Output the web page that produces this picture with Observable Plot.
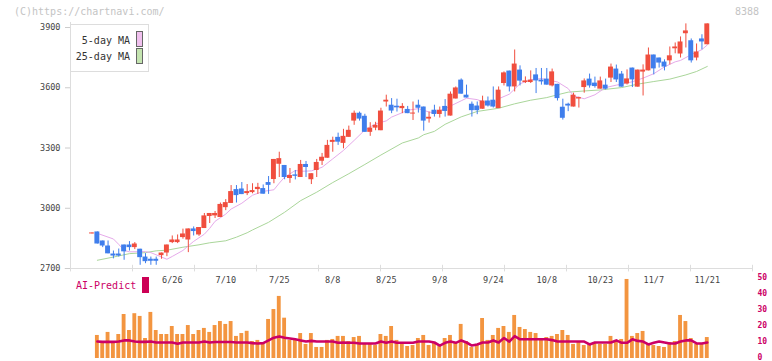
<!DOCTYPE html>
<html><head><meta charset="utf-8">
<script src="https://cdn.jsdelivr.net/npm/d3@7"></script>
<script src="https://cdn.jsdelivr.net/npm/@observablehq/plot@0.6"></script>
<style>
body{margin:0;background:#fff;}
#wrap{position:relative;width:772px;height:361px;overflow:hidden;font-family:"DejaVu Sans Mono",monospace;}
#wrap svg{position:absolute;left:0;}
.abs{position:absolute;white-space:nowrap;line-height:12px;}
</style></head><body><div id="wrap"></div>
<script>
// ---- data ----
const opens = [2872,2882,2837,2812,2772,2772,2817,2817,2804,2796,
2757,2746,2746,2764,2777,2829,2829,2854,2842,2897,
2867,2899,2959,2962,2954,3003,3024,3093,3096,3073,
3078,3093,3098,3128,3143,3219,3213,3148,3166,3153,
3218,3142,3188,3234,3249,3328,3353,3323,3353,3434,
3473,3458,3378,3399,3386,3529,3513,3508,3496,3492,
3469,3513,3504,3444,3488,3467,3507,3459,3544,3638,
3563,3518,3509,3493,3534,3538,3496,3621,3683,3604,
3688,3626,3626,3664,3638,3643,3609,3617,3503,3518,
3504,3544,3601,3643,3623,3593,3613,3648,3693,3668,
3619,3698,3603,3678,3684,3763,3748,3728,3734,3794,
3768,3869,3834,3748,3843,3814];
const highs = [2877,2882,2837,2837,2787,2797,2817,2834,2829,2796,
2774,2757,2757,2777,2817,2862,2867,2896,2897,2907,
2904,2974,2974,2984,3026,3043,3113,3113,3128,3118,
3122,3124,3116,3158,3243,3279,3213,3198,3188,3238,
3233,3172,3243,3273,3338,3354,3374,3393,3409,3484,
3479,3468,3426,3428,3498,3563,3546,3543,3521,3507,
3529,3538,3504,3479,3513,3504,3541,3579,3604,3644,
3613,3529,3529,3558,3554,3604,3604,3679,3683,3788,
3709,3654,3684,3696,3696,3696,3693,3617,3543,3523,
3573,3553,3644,3668,3653,3653,3643,3718,3713,3681,
3689,3698,3688,3714,3798,3763,3748,3739,3803,3823,
3853,3918,3843,3818,3864,3918];
const lows = [2872,2822,2804,2773,2748,2757,2741,2787,2794,2716,
2724,2716,2716,2746,2759,2824,2824,2846,2779,2862,
2860,2899,2924,2949,2954,2988,3024,3026,3068,3063,
3072,3069,3070,3069,3122,3153,3142,3124,3141,3153,
3153,3118,3153,3213,3249,3279,3313,3296,3353,3413,
3434,3378,3358,3386,3386,3504,3471,3479,3471,3471,
3437,3474,3384,3424,3454,3449,3454,3459,3544,3568,
3549,3454,3466,3493,3504,3499,3496,3609,3579,3579,
3609,3621,3621,3571,3613,3613,3604,3534,3439,3481,
3504,3499,3573,3598,3598,3593,3589,3626,3626,3603,
3614,3601,3603,3559,3684,3664,3698,3684,3714,3769,
3748,3798,3723,3734,3789,3814];
const closes = [2877,2822,2812,2773,2762,2762,2783,2804,2822,2754,
2734,2736,2736,2777,2817,2842,2842,2872,2897,2884,
2904,2962,2974,2974,3019,3028,3083,3063,3068,3083,
3088,3104,3070,3114,3243,3247,3153,3163,3159,3218,
3203,3172,3228,3254,3313,3338,3329,3358,3388,3473,
3444,3378,3399,3413,3484,3538,3484,3500,3507,3471,
3474,3498,3434,3453,3467,3488,3482,3568,3599,3568,
3549,3486,3486,3534,3509,3504,3588,3674,3604,3718,
3633,3634,3638,3634,3629,3613,3679,3546,3448,3509,
3563,3551,3634,3609,3606,3634,3593,3703,3639,3603,
3644,3639,3688,3688,3763,3694,3723,3703,3759,3803,
3828,3883,3734,3778,3828,3918];

// 5-day / 25-day moving averages, read at candle positions
const ma5Idx = [2,5,6,7,8,11,12,14,15,16,18,19,20,22,23,24,26,27,29,30,31,33,35,36,37,39,40,42,44,46,48,50,52,54,56,57,59,60,62,64,65,67,70,71,73,75,76,77,79,81,83,85,87,88,90,91,93,95,97,99,100,102,104,106,108,110,111,113,115,116];
const ma5Val = [2875,2847,2820,2790,2783,2784,2779,2757,2746,2760,2790,2813,2835,2871,2900,2935,2971,2996,3025,3045,3065,3084,3092,3125,3155,3188,3184,3186,3204,3246,3288,3338,3390,3420,3435,3454,3476,3488,3496,3479,3475,3496,3535,3548,3541,3521,3518,3545,3568,3620,3640,3646,3634,3629,3596,3560,3545,3565,3601,3613,3618,3630,3648,3670,3704,3729,3736,3765,3790,3813];
const ma25Idx = [2,5,8,11,13,15,18,21,23,26,28,30,31,34,37,40,43,46,49,52,55,59,62,63,65,67,70,73,77,80,83,86,88,90,93,96,100,103,106,109,112,114,116];
const ma25Val = [2741,2757,2774,2779,2788,2791,2806,2818,2828,2838,2856,2878,2892,2930,2980,3038,3080,3128,3172,3218,3265,3325,3350,3366,3383,3418,3455,3482,3498,3520,3538,3551,3565,3578,3584,3589,3601,3618,3631,3643,3664,3681,3706];

// bottom panel: bars for candles 2..116, and the AI-Predict line
const volFirstIdx = 2;
const volumes = [14.4,10.6,16.3,10.6,15,27.5,17.5,28,26.3,12.5,
28.8,17.5,15,15,20,15,15,20.6,15,17.5,
18.8,16.3,20.6,23.1,21.3,23.1,13.8,15.6,17,10.6,
11.3,10,24.4,30.6,38.8,25.2,11.3,11.3,15.6,8.8,
15.6,6.9,6.9,11.3,11.9,13.8,13.8,10.6,13.1,13.8,
9.4,9.4,8.1,15,13.8,20,11.3,10,7.5,8.1,
12.5,14.4,8.1,10,7.5,12.5,14.4,9.4,21.3,10.6,
6.9,8.8,25,11.3,14.4,18.8,20,16.3,26.9,19.4,
18.1,16.3,15.6,11.9,13.1,13.8,15,17.5,14.4,8.8,
10,8.1,9.4,10,8.8,8.8,13.8,11.3,11.9,49.4,
13.8,15.6,16.9,8.8,8.1,7.5,6.9,10,10.6,26.9,
23.1,12.5,8.8,9.4,13.1];
const predict = [10.6,10.4,10.4,10.4,10.6,11.3,11.3,10.6,10.4,10.4,
10.6,10,10,10,10,9.2,10,10,10,10,
10.6,10,10.3,10.3,10.3,10.3,10,10,10,9.6,
9.4,9.6,11.3,13,13.8,13,12.5,12,11.3,10.6,
11,10.6,10.6,10.6,10.6,9.8,10,9.8,9.8,9.4,
9.4,9.4,9.4,10.6,9.8,10.6,9.8,9.8,9.8,9.8,
10.6,10.6,10.6,10,8.1,9.8,10.6,9.8,11.3,10,
8.1,8.8,10,10,11.3,10,12.8,10.6,14,12,
12,12,12,12,12,11.5,10.6,10.6,10.6,10.6,
10.6,10.6,8.8,10,10,10,10,11.3,9.8,9.8,
12,11,10.6,8.8,9.8,10.6,10,9.4,9.4,10.6,
11.3,11.3,9.4,9.4,10];

const dateLabels = ["6/26","7/10","7/25","8/8","8/25","9/8","9/24","10/8","10/23","11/7","11/21"];
const dateLabelIdx = [16,26,36,46,56,66,76,86,96,106,116];
const priceTicks = [2700,3000,3300,3600,3900];
const volTicks = [0,10,20,30,40,50];

// ---- build ----
const RED = "#f04e3e", BLUE = "#3f7eec", PINK = "#e6aaea", GREEN = "#aad69a";
const CRIMSON = "#cc0066", ORANGE = "#f39540";
const FONT = "DejaVu Sans Mono, monospace";
const candles = opens.map((o, k) => ({i: k + 1, o, h: highs[k], l: lows[k], c: closes[k]}));
const up = candles.filter(d => d.c >= d.o), down = candles.filter(d => d.c < d.o);
const ma5 = ma5Idx.map((i, k) => ({i, v: ma5Val[k]}));
const ma25 = ma25Idx.map((i, k) => ({i, v: ma25Val[k]}));
const vol = volumes.map((v, k) => ({i: k + volFirstIdx, v, p: predict[k]}));
const xDomain = [-3.02, 124.45];
const xTicks = d3.range(12).map(j => xDomain[0] + j * (xDomain[1] - xDomain[0]) / 11);
const hw = 0.46;

const topPlot = Plot.plot({
  width: 772, height: 300, marginLeft: 70, marginRight: 20, marginTop: 27, marginBottom: 32,
  x: {domain: xDomain, axis: null},
  y: {domain: [2700, 3900], axis: null},
  style: {fontFamily: FONT, background: "transparent"},
  marks: [
    Plot.ruleX([xDomain[0]], {y1: 2700, y2: 3925, stroke: "#dddddd"}),
    Plot.ruleY([2700], {x1: xDomain[0] - 1, x2: xDomain[1], stroke: "#dddddd"}),
    Plot.ruleX(xTicks, {y1: 2683, y2: 2716, stroke: "#dddddd"}),
    Plot.axisY(priceTicks, {tickSize: 5, tickPadding: 5, tickFormat: d => String(d), stroke: "#cccccc", fill: "#444", fontSize: 8.5, fontFamily: FONT}),
    Plot.line(ma25, {x: "i", y: "v", stroke: GREEN, strokeWidth: 1}),
    Plot.line(ma5, {x: "i", y: "v", stroke: PINK, strokeWidth: 1}),
    Plot.ruleX(up, {x: "i", y1: "l", y2: "h", stroke: RED, strokeWidth: 1}),
    Plot.ruleX(down, {x: "i", y1: "l", y2: "h", stroke: BLUE, strokeWidth: 1}),
    Plot.rect(up, {x1: d => d.i - hw, x2: d => d.i + hw, y1: "o", y2: "c", fill: RED}),
    Plot.rect(down, {x1: d => d.i - hw, x2: d => d.i + hw, y1: "c", y2: "o", fill: BLUE}),
    Plot.text(dateLabels, {x: (d, j) => dateLabelIdx[j], frameAnchor: "bottom", dy: 14, fontSize: 8.5, fill: "#444", fontFamily: FONT})
  ]
});
topPlot.style.top = "0px";

const botPlot = Plot.plot({
  width: 772, height: 91, marginLeft: 70, marginRight: 20, marginTop: 8, marginBottom: 3,
  x: {domain: xDomain, axis: null},
  y: {domain: [0, 50], axis: null},
  style: {fontFamily: FONT, background: "transparent"},
  marks: [
    Plot.rect(vol, {x1: d => d.i - 0.36, x2: d => d.i + 0.36, y1: 0, y2: "v", fill: ORANGE}),
    Plot.line(vol, {x: "i", y: "p", stroke: CRIMSON, strokeWidth: 2.6}),
    Plot.axisY(volTicks, {anchor: "right", tickSize: 0, tickPadding: 5, dy: -1.2, fill: CRIMSON, fontSize: 8, fontWeight: "bold", fontFamily: FONT})
  ]
});
botPlot.style.top = "270px";

const wrap = document.getElementById("wrap");
wrap.appendChild(topPlot);
wrap.appendChild(botPlot);

function addDiv(html, css) {
  const d = document.createElement("div");
  d.className = "abs";
  d.innerHTML = html;
  Object.assign(d.style, css);
  wrap.appendChild(d);
  return d;
}
addDiv("(C)https://chartnavi.com/", {left: "14px", top: "6px", fontSize: "10px", color: "#c4c4c4"});
addDiv("8388", {left: "735px", top: "6px", fontSize: "10px", color: "#c4c4c4"});
// legend box
addDiv("", {left: "70px", top: "24px", width: "79px", height: "48px", boxSizing: "border-box", border: "1px solid #dddddd", background: "#fff"});
addDiv("5-day MA", {right: (772 - 130) + "px", top: "35px", fontSize: "10px", color: "#333"});
addDiv("25-day MA", {right: (772 - 130) + "px", top: "51px", fontSize: "10px", color: "#333"});
addDiv("", {left: "136px", top: "31px", width: "7px", height: "16px", boxSizing: "border-box", border: "1px solid #666", background: "#f0c0ee"});
addDiv("", {left: "136px", top: "48px", width: "7px", height: "16px", boxSizing: "border-box", border: "1px solid #666", background: "#c4e4b0"});
// AI-Predict label
addDiv("AI-Predict", {left: "76px", top: "280px", fontSize: "10px", color: CRIMSON});
addDiv("", {left: "142px", top: "277px", width: "7px", height: "16px", background: "#cc0055"});
</script></body></html>
